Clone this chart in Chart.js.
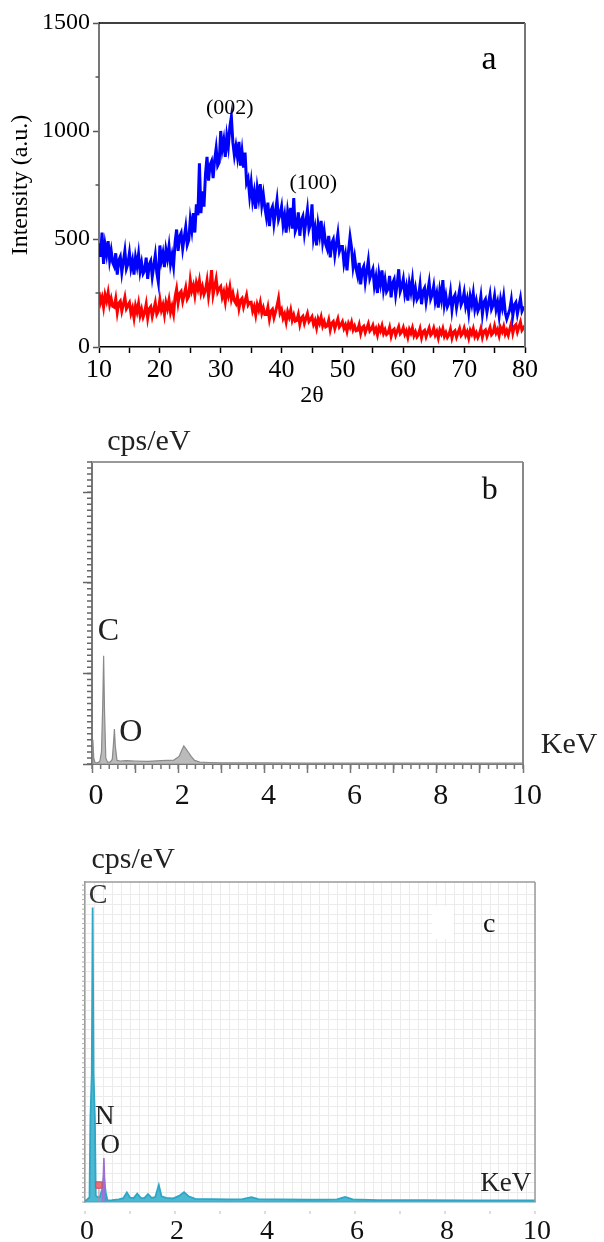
<!DOCTYPE html>
<html><head><meta charset="utf-8">
<script src="https://cdn.jsdelivr.net/npm/chart.js@4.4.0/dist/chart.umd.min.js"></script>
<style>
html,body{margin:0;padding:0;background:#fff;}
body{width:604px;height:1242px;position:relative;overflow:hidden;}
canvas{position:absolute;left:0;display:block;}
</style></head><body>
<canvas id="ca" width="604" height="410" style="top:0"></canvas>
<canvas id="cb" width="604" height="420" style="top:410px"></canvas>
<canvas id="cc" width="604" height="412" style="top:830px"></canvas>
<script>
// ---------- DATA ----------
// Panel a: XRD, 2θ from 10 to 80 sampled every 0.25° (one row = 2.5°)
const xrdStart = 10, xrdStep = 0.25;
const xrdBlue = [
 480,418,530,385,473,429,490,402,446,391,
 374,434,335,401,418,346,396,445,363,385,
 435,365,400,335,415,375,430,350,390,340,
 354,414,315,381,398,326,376,425,343,300,
 470,400,435,370,450,410,465,385,425,375,
 484,544,445,511,528,456,506,555,473,495,
 590,540,620,530,660,610,850,620,720,650,
 800,880,770,842,860,782,865,920,840,855,
 1000,916,958,880,976,928,1020,1066,946,886,
 930,880,950,840,905,830,900,760,780,700,
 760,676,718,640,736,688,754,658,706,646,
 602,668,560,632,650,572,626,680,590,614,
 650,566,608,530,626,578,644,548,690,536,
 557,623,515,587,605,527,581,635,545,569,
 660,506,548,470,566,518,584,488,536,476,
 454,514,415,481,498,426,476,525,443,465,
 465,388,427,355,443,510,460,372,416,361,
 329,389,290,356,373,301,351,400,318,340,
 360,283,322,250,338,294,355,267,311,256,
 269,329,230,296,313,241,291,360,258,280,
 315,245,280,215,295,255,310,230,270,220,
 233,288,198,258,273,208,253,298,223,243,
 282,212,247,182,262,222,310,197,237,187,
 204,254,173,227,241,182,222,263,196,214,
 252,189,221,162,234,198,248,176,212,167,
 185,234,153,207,221,162,203,243,176,194,
 237,174,206,147,219,183,233,161,130,152,
 174,218,146,194,206,154,190,226,166,182,
 180];
const xrdRed = [
 255,206,230,185,241,213,252,196,224,189,
 185,223,160,202,212,167,198,230,178,192,
 205,156,180,135,191,163,202,146,174,139,
 160,198,135,177,187,142,173,205,152,166,
 220,171,195,150,206,178,217,161,189,154,
 230,268,205,247,257,212,243,275,222,236,
 310,261,285,240,296,268,307,251,279,244,
 263,307,235,283,356,243,279,315,255,271,
 280,231,255,210,266,238,277,221,249,214,
 201,234,180,216,225,186,213,240,195,207,
 208,166,187,148,196,172,205,157,181,151,
 151,184,130,166,175,136,163,190,225,157,
 173,134,153,117,162,139,170,125,148,120,
 123,150,105,135,143,110,133,155,118,128,
 140,105,123,90,130,110,138,98,118,93,
 98,125,80,110,118,85,108,130,93,103,
 117,86,102,73,108,91,115,80,97,75,
 78,103,63,89,96,67,87,107,74,83,
 100,69,85,56,91,74,98,63,80,58,
 65,90,50,76,83,54,74,94,61,70,
 90,59,75,46,81,64,88,53,70,48,
 59,84,44,70,77,48,68,88,55,64,
 87,56,72,43,78,61,85,50,67,45,
 57,82,42,68,75,46,66,86,53,62,
 86,55,71,42,77,60,84,49,66,44,
 61,86,46,72,79,50,70,90,57,66,
 97,66,82,53,88,71,95,60,77,55,
 83,110,65,95,103,70,93,115,78,88,
 100];
const xrdXTicks = [10,20,30,40,50,60,70,80];
const xrdYTicks = [0,500,1000,1500];

// Panel b: EDS spectrum (relative cps/eV)
const edsBx = [0,0.02,0.04,0.07,0.12,0.18,0.22,0.25,0.27,0.29,
 0.32,0.36,0.42,0.47,0.5,0.52,0.54,0.58,0.65,0.8,
 1.0,1.3,1.6,1.9,2.02,2.08,2.13,2.18,2.24,2.3,
 2.38,2.5,2.7,3.0,4.0,5.0,6.0,7.0,8.0,9.0,10.0];
const edsBy = [0,8,2,0.5,0.4,0.8,4,20,35.8,18,
 2,0.6,0.6,1.5,7,11.6,6,1.2,1.0,1.1,
 1.0,0.9,1.1,1.3,2.5,4.5,6,5,3.8,2.5,
 1.2,0.6,0.5,0.4,0.35,0.3,0.3,0.3,0.3,0.3,0.3];

// Panel c: EDS spectrum (relative cps/eV)
const edsCx = [0,0.05,0.1,0.12,0.15,0.17,0.19,0.22,0.24,0.28,
 0.33,0.38,0.42,0.46,0.5,0.6,0.75,0.85,0.93,1.0,
 1.08,1.16,1.24,1.32,1.4,1.48,1.56,1.64,1.7,1.8,
 1.95,2.1,2.2,2.3,2.45,2.8,3.2,3.5,3.7,3.85,
 4.3,5.0,5.6,5.78,5.95,6.5,7.5,8.5,10];
const edsCy = [0.3,0.8,1.5,26,40,92,40,26,2,1.5,
 1.5,4,8,3,0.5,0.6,0.8,1.2,3,1.4,
 1.2,2.6,1.3,1.2,2.5,1.3,1.5,5.3,1.8,1.3,
 1.1,2.0,3.1,1.8,1.0,0.9,0.8,0.9,1.5,0.9,
 0.8,0.7,0.8,1.6,0.8,0.6,0.6,0.5,0.5];
const oPeakX = [0.39,0.42,0.45];
const oPeakY = [0,13.75,0];
const nMarkX = [0.31];
const nMarkY = [5.3];
const edsXTicks = [0,2,4,6,8,10];

// ---------- HELPERS ----------
const SERIF = '"Liberation Serif","Times New Roman",serif';
function range(a,b,s){const r=[];for(let v=a;v<=b+1e-9;v+=s)r.push(+v.toFixed(4));return r;}
function pts(xs,ys){return ys.map((y,i)=>({x:xs[i],y}));}
function grid(xs0,step,ys){return ys.map((y,i)=>({x:xs0+i*step,y}));}
const isTick=(arr)=>v=>arr.some(t=>Math.abs(t-v)<1e-6)?String(Math.round(v)):'';

const decorCfg = {};
const decor = {
  id:'decor',
  afterDraw(chart){
    const cfg = decorCfg[chart.canvas.id]; if(!cfg) return;
    const ctx = chart.ctx, a = chart.chartArea, sx = chart.scales.x, sy = chart.scales.y;
    ctx.save();
    (cfg.rects||[]).forEach(r=>{
      ctx.fillStyle=r.color;
      const x0=sx.getPixelForValue(r.x0), x1=sx.getPixelForValue(r.x1);
      const y0=sy.getPixelForValue(r.y0), y1=sy.getPixelForValue(r.y1);
      ctx.fillRect(x0,y1,x1-x0,y0-y1);
    });
    (cfg.frame||[]).forEach(f=>{
      ctx.strokeStyle=f.color; ctx.lineWidth=f.width; ctx.beginPath();
      if(f.side==='top'){ctx.moveTo(a.left,a.top);ctx.lineTo(a.right,a.top);}
      if(f.side==='right'){ctx.moveTo(a.right,a.top);ctx.lineTo(a.right,a.bottom);}
      ctx.stroke();
    });
    (cfg.minor||[]).forEach(m=>{
      ctx.strokeStyle=m.color; ctx.lineWidth=m.width; ctx.beginPath();
      m.values.forEach(v=>{
        if(m.axis==='x'){const p=sx.getPixelForValue(v);ctx.moveTo(p,a.bottom+m.from);ctx.lineTo(p,a.bottom+m.from+m.len);}
        else {const p=sy.getPixelForValue(v);ctx.moveTo(a.left-m.from,p);ctx.lineTo(a.left-m.from-m.len,p);}
      });
      ctx.stroke();
    });
    (cfg.notes||[]).forEach(n=>{
      ctx.font=n.size+'px '+SERIF; ctx.fillStyle=n.color||'#000';
      ctx.textAlign='center'; ctx.textBaseline='middle';
      ctx.fillText(n.text, sx.getPixelForValue(n.x), sy.getPixelForValue(n.y));
    });
    ctx.restore();
  }
};
Chart.register(decor);

const base = {
  responsive:false, animation:false, events:[],
  plugins:{legend:{display:false},tooltip:{enabled:false}},
  elements:{point:{radius:0}, line:{tension:0}}
};

// ---------- PANEL A ----------
decorCfg.ca = {
  frame:[{side:'top',color:'#000',width:1.5},{side:'right',color:'#777',width:2}],
  minor:[{axis:'y',values:[250,750,1250],from:0,len:3.5,color:'#555',width:1.5}],
  notes:[
    {text:'(002)',x:31.5,y:1106,size:22},
    {text:'(100)',x:45.2,y:759,size:22},
    {text:'a',x:74.1,y:1330,size:34}
  ]
};
new Chart(document.getElementById('ca'),{
  type:'line',
  data:{datasets:[
    {data:grid(xrdStart,xrdStep,xrdBlue),borderColor:'#0000ff',borderWidth:3,fill:false},
    {data:grid(xrdStart,xrdStep,xrdRed),borderColor:'#ff0000',borderWidth:3,fill:false}
  ]},
  options:Object.assign({},base,{
    layout:{padding:{left:0,top:23,right:79,bottom:0}},
    scales:{
      x:{type:'linear',min:10,max:80,
        ticks:{stepSize:5,autoSkip:false,maxRotation:0,padding:2,color:'#000',font:{family:SERIF,size:26},callback:isTick(xrdXTicks)},
        grid:{drawOnChartArea:false,tickLength:6,color:'#000',tickWidth:1.5},
        border:{color:'#000',width:1.5},
        title:{display:true,text:'2θ',color:'#000',font:{family:SERIF,size:24},padding:{top:0,bottom:0}},
        afterFit:s=>{s.height=63;}},
      y:{type:'linear',min:0,max:1500,
        ticks:{stepSize:500,padding:3,color:'#000',font:{family:SERIF,size:24},callback:isTick(xrdYTicks)},
        grid:{drawOnChartArea:false,tickLength:6,color:'#555',tickWidth:1.5},
        border:{color:'#777',width:2},
        title:{display:true,text:'Intensity (a.u.)',color:'#000',font:{family:SERIF,size:24},padding:{top:6,bottom:0}},
        afterFit:s=>{s.width=99;}}
    }
  })
});

// ---------- PANEL B ----------
decorCfg.cb = {
  frame:[{side:'top',color:'#999',width:2},{side:'right',color:'#888',width:2}],
  minor:[
    {axis:'x',values:range(0,10,0.2),from:0,len:5,color:'#777',width:1.5},
    {axis:'y',values:range(0,100,2),from:0,len:5,color:'#666',width:1.5}
  ],
  notes:[
    {text:'cps/eV',x:1.32,y:106.5,size:30,color:'#222'},
    {text:'b',x:9.23,y:90.4,size:32,color:'#111'},
    {text:'C',x:0.38,y:44,size:32,color:'#222'},
    {text:'O',x:0.9,y:10.3,size:32,color:'#222'},
    {text:'KeV',x:11.07,y:6.3,size:30,color:'#222'}
  ]
};
new Chart(document.getElementById('cb'),{
  type:'line',
  data:{datasets:[
    {data:pts(edsBx,edsBy),borderColor:'#8a8a8a',borderWidth:1.2,fill:'origin',backgroundColor:'rgba(175,175,175,0.85)'}
  ]},
  options:Object.assign({},base,{
    layout:{padding:{left:0,top:52,right:81,bottom:0}},
    scales:{
      x:{type:'linear',min:0,max:10,
        ticks:{stepSize:1,autoSkip:false,maxRotation:0,padding:5,labelOffset:4,color:'#111',font:{family:SERIF,size:30},callback:isTick(edsXTicks)},
        grid:{drawOnChartArea:false,tickLength:9,color:'#777',tickWidth:1.5},
        border:{color:'#777',width:2},
        afterFit:s=>{s.height=66;}},
      y:{type:'linear',min:0,max:100,
        afterBuildTicks:s=>{s.ticks=s.ticks.filter(t=>t.value%30===0);},
        ticks:{stepSize:30,display:false},
        grid:{drawOnChartArea:false,tickLength:9,color:'#666',tickWidth:1.5},
        border:{color:'#777',width:2},
        afterFit:s=>{s.width=92;}}
    }
  })
});

// ---------- PANEL C ----------
decorCfg.cc = {
  frame:[{side:'top',color:'#9a9a9a',width:1.5},{side:'right',color:'#9a9a9a',width:1.5}],
  rects:[{x0:7.71,x1:8.18,y0:82.2,y1:92.5,color:'#fff'}],
  minor:[
    {axis:'y',values:range(0,100,1.5),from:0,len:3,color:'#aaa',width:1},
    {axis:'x',values:range(0,10,1),from:9,len:3,color:'#bbb',width:1}
  ],
  notes:[
    {text:'cps/eV',x:1.07,y:106.9,size:30,color:'#222'},
    {text:'C',x:0.29,y:95.6,size:28,color:'#333'},
    {text:'c',x:8.98,y:86.6,size:28,color:'#111'},
    {text:'N',x:0.44,y:26.6,size:27,color:'#222'},
    {text:'O',x:0.56,y:17.5,size:27,color:'#222'},
    {text:'KeV',x:9.35,y:5.6,size:27,color:'#222'}
  ]
};
new Chart(document.getElementById('cc'),{
  type:'line',
  data:{datasets:[
    {data:pts(edsCx,edsCy),borderColor:'#2ea6c6',borderWidth:1.8,fill:'origin',backgroundColor:'rgba(58,176,204,0.9)',order:3},
    {data:pts(oPeakX,oPeakY),borderColor:'#9b6fd6',borderWidth:1.6,fill:false,order:2},
    {data:[{x:nMarkX[0],y:0},{x:nMarkX[0],y:nMarkY[0]}],borderColor:'#c98090',borderWidth:1,fill:false,order:1},
    {data:pts(nMarkX,nMarkY),showLine:false,pointStyle:'rect',pointRadius:4.5,backgroundColor:'#e9707c',borderColor:'#c94a5a',borderWidth:1,order:0}
  ]},
  options:Object.assign({},base,{
    layout:{padding:{left:0,top:52,right:69,bottom:0}},
    scales:{
      x:{type:'linear',min:0,max:10,
        ticks:{stepSize:0.2,autoSkip:false,maxRotation:0,padding:13,labelOffset:2,color:'#111',font:{family:SERIF,size:28},callback:isTick(edsXTicks)},
        grid:{drawOnChartArea:true,drawTicks:false,color:'#ebebeb',lineWidth:1},
        border:{color:'#6fb8cc',width:1.5},
        afterFit:s=>{s.height=40;}},
      y:{type:'linear',min:0,max:100,
        afterBuildTicks:s=>{s.ticks=s.ticks.filter(t=>t.value%3===0);},
        ticks:{stepSize:3,display:false},
        grid:{drawOnChartArea:true,drawTicks:false,color:'#ebebeb',lineWidth:1},
        border:{color:'#9a9a9a',width:1.5},
        afterFit:s=>{s.width=85;}}
    }
  })
});
</script>
</body></html>
